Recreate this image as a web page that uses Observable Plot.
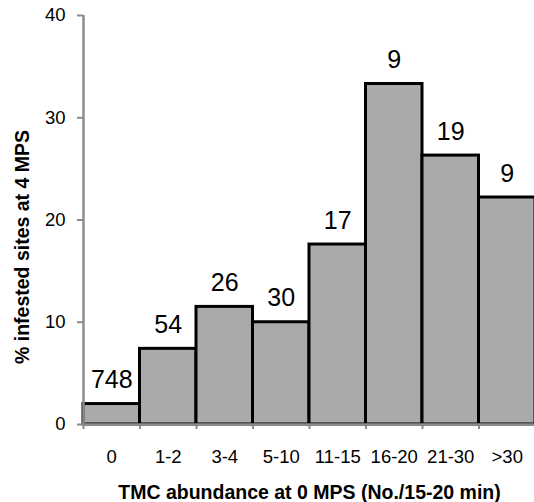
<!DOCTYPE html>
<html>
<head>
<meta charset="utf-8">
<script src="https://cdn.jsdelivr.net/npm/d3@7"></script>
<script src="https://cdn.jsdelivr.net/npm/@observablehq/plot@0.6"></script>
<style>
  html, body { margin: 0; padding: 0; background: #fff; overflow: hidden; }
  #chart svg { display: block; font-family: "Liberation Sans", Arial, sans-serif; }
</style>
</head>
<body>
<div id="chart"></div>
<script>
const categories = ["0", "1-2", "3-4", "5-10", "11-15", "16-20", "21-30", ">30"];
const infestedPct = [2.0, 7.4, 11.5, 10.0, 17.6, 33.3, 26.3, 22.2];
const siteCounts = [748, 54, 26, 30, 17, 9, 19, 9];
const yTicks = [0, 10, 20, 30, 40];
const xLabel = "TMC abundance at 0 MPS (No./15-20 min)";
const yLabel = "% infested sites at 4 MPS";

const data = categories.map((c, i) => ({cat: c, i, value: infestedPct[i], n: siteCounts[i]}));
const gray = "#8c8c8c";

const chart = Plot.plot({
  width: 534,
  height: 502,
  marginLeft: 83,
  marginRight: -1,
  marginTop: 15,
  marginBottom: 78,
  style: {fontFamily: "'Liberation Sans', Arial, sans-serif", background: "white", overflow: "visible"},
  x: {domain: [0, categories.length]},
  y: {domain: [0, 40]},
  marks: [
    Plot.rectY(data, {x1: "i", x2: d => d.i + 1, y: "value", fill: "#aaaaaa", stroke: "black", strokeWidth: 3}),
    Plot.ruleY([0], {stroke: gray, strokeWidth: 2.5}),
    Plot.ruleX([0], {stroke: gray, strokeWidth: 2.5}),
    Plot.axisY({ticks: yTicks, tickSize: 6, tickPadding: 12, stroke: gray, strokeWidth: 2, fill: "black", fontSize: 18.5, label: null}),
    Plot.axisX({ticks: d3.range(categories.length + 1), tickFormat: () => "", tickSize: 5, stroke: gray, strokeWidth: 2, label: null}),
    Plot.axisX({ticks: d3.range(categories.length).map(i => i + 0.5), tickFormat: d => categories[Math.floor(d)], tickSize: 0, tickPadding: 25, fill: "black", fontSize: 18.5, label: null}),
    Plot.text(data, {x: d => d.i + 0.5, y: "value", text: d => String(d.n), dy: -24, fontSize: 25, fill: "black"}),
    Plot.text([yLabel], {frameAnchor: "left", textAnchor: "middle", lineAnchor: "middle", rotate: -90, dx: -61, dy: 27, fontWeight: "bold", fontSize: 19.5, fill: "black"}),
    Plot.text([xLabel], {frameAnchor: "bottom", textAnchor: "middle", lineAnchor: "middle", dy: 68, fontWeight: "bold", fontSize: 19.5, fill: "black"})
  ]
});
document.getElementById("chart").appendChild(chart);
</script>
</body>
</html>
